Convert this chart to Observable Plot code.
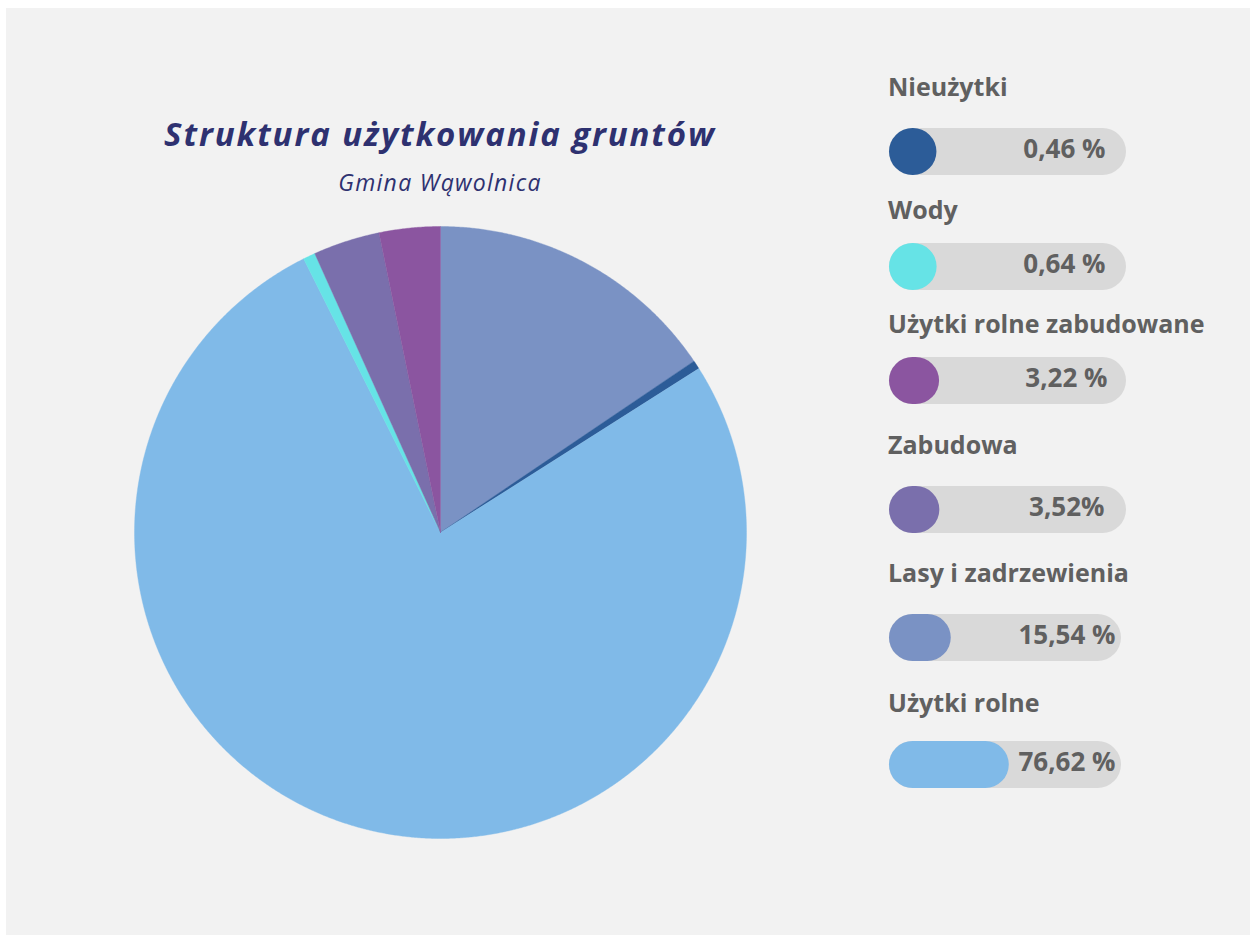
<!DOCTYPE html>
<html>
<head>
<meta charset="utf-8">
<script src="https://cdn.jsdelivr.net/npm/d3@7"></script>
<script src="https://cdn.jsdelivr.net/npm/@observablehq/plot@0.6"></script>
<style>
  html, body { margin: 0; padding: 0; background: #ffffff; }
  #page { position: relative; width: 1250px; height: 936px; overflow: hidden; font-family: "Open Sans", sans-serif; }
  #panel { position: absolute; left: 6px; top: 8px; width: 1244px; height: 927px; background: #f2f2f2; }
  .abs { position: absolute; }
  #title { left: 40px; width: 800px; text-align: center; font-size: 33px; font-weight: 700; font-style: italic; color: #2e3170; line-height: 33px; top: 117px; white-space: nowrap; letter-spacing: 1.9px; }
  #subtitle { left: 190px; width: 500px; text-align: center; font-size: 23px; font-weight: 400; font-style: italic; color: #2e3170; line-height: 23px; top: 171px; white-space: nowrap; letter-spacing: 1.3px; }
  .lab { font-size: 25px; font-weight: 700; color: #606060; line-height: 25px; white-space: nowrap; }
</style>
</head>
<body>
<div id="page">
  <div id="panel"></div>
  <div id="title" class="abs">Struktura użytkowania gruntów</div>
  <div id="subtitle" class="abs">Gmina Wąwolnica</div>
  <div id="pie" class="abs" style="left:131px; top:223px;"></div>
  <div id="legend"></div>
</div>
<script>
// ---- Data (pie order, clockwise from 12 o'clock) ----
const pieNames  = ["Lasy i zadrzewienia", "Nieużytki", "Użytki rolne", "Wody", "Zabudowa", "Użytki rolne zabudowane"];
const pieShares = [15.54, 0.46, 76.62, 0.64, 3.52, 3.22];

// ---- Legend (top to bottom) ----
const legendNames  = ["Nieużytki", "Wody", "Użytki rolne zabudowane", "Zabudowa", "Lasy i zadrzewienia", "Użytki rolne"];
const legendValues = [0.46, 0.64, 3.22, 3.52, 15.54, 76.62];
const legendLabels = ["0,46 %", "0,64 %", "3,22 %", "3,52%", "15,54 %", "76,62 %"];

// ---- Colours ----
const colorDomain = ["Nieużytki", "Wody", "Użytki rolne zabudowane", "Zabudowa", "Lasy i zadrzewienia", "Użytki rolne"];
const colorRange  = ["#2c5c98", "#66e3e6", "#8b55a0", "#7a6fac", "#7a92c4", "#80bae8"];

// ---- Layout (pixels) ----
const pieSize = 612, pieMargin = 3;
const barCenters = [151, 266, 380, 509, 637, 764];
const labelBaselines = [96, 219, 333, 454, 582, 712];
const trackRights = [1126, 1126, 1126, 1126, 1121, 1121];
const valueRights = [1105, 1105, 1107, 1104, 1115, 1115];
const legendLeft = 889;
const barH = 47;
const barSpan = 190;   // pixels for scale domain [0, trackMax]
const trackMax = 200;

// Build slice outlines from d3.pie angles
const pieData = pieNames.map((name, i) => ({name, share: pieShares[i]}));
const arcs = d3.pie().sort(null).value(d => d.share)(pieData);
const pts = [];
for (const a of arcs) {
  const n = Math.max(2, Math.ceil((a.endAngle - a.startAngle) / 0.005));
  pts.push({name: a.data.name, x: 0, y: 0});
  for (let k = 0; k <= n; k++) {
    const t = a.startAngle + (a.endAngle - a.startAngle) * k / n;
    pts.push({name: a.data.name, x: Math.sin(t), y: Math.cos(t)});
  }
  pts.push({name: a.data.name, x: 0, y: 0});
}

const pie = Plot.plot({
  width: pieSize + 2 * pieMargin, height: pieSize + 2 * pieMargin, margin: pieMargin,
  style: {background: "transparent", overflow: "visible"},
  x: {domain: [-1, 1], axis: null},
  y: {domain: [-1, 1], axis: null},
  color: {domain: colorDomain, range: colorRange},
  marks: [
    Plot.line(pts, {x: "x", y: "y", z: "name", fill: "name", stroke: "name", strokeWidth: 0.4, curve: "linear"})
  ]
});
document.getElementById("pie").appendChild(pie);

// Legend rows
const legendEl = document.getElementById("legend");
legendNames.forEach((name, i) => {
  const lab = document.createElement("div");
  lab.className = "abs lab";
  lab.style.left = (legendLeft - 1) + "px";
  lab.style.top = (labelBaselines[i] - 0.888 * 25) + "px";
  lab.textContent = name;
  legendEl.appendChild(lab);

  const row = [{name, value: legendValues[i], label: legendLabels[i]}];
  const x = d3.scaleLinear([0, trackMax], [barH / 2, barH / 2 + barSpan]);
  const trackEnd = x.invert(trackRights[i] - legendLeft - barH / 2);
  const p = Plot.plot({
    width: 250, height: barH + 1, margin: 0,
    style: {background: "transparent", overflow: "visible"},
    x: {domain: x.domain(), range: x.range(), axis: null},
    y: {domain: [-1, 1], range: [barH + 1, 0], axis: null},
    color: {domain: colorDomain, range: colorRange},
    marks: [
      Plot.ruleY(row, {y: () => 0, x1: () => 0, x2: () => trackEnd, stroke: "#d9d9d9", strokeWidth: barH, strokeLinecap: "round"}),
      Plot.ruleY(row, {y: () => 0, x1: () => 0, x2: "value", stroke: "name", strokeWidth: barH, strokeLinecap: "round"}),
      Plot.text(row, {x: () => trackMax, y: () => 0, text: "label", textAnchor: "end",
        dx: (valueRights[i] - legendLeft) - (barH / 2 + barSpan), dy: -1.5,
        fontSize: 26, fontWeight: 700, fill: "#606060", fontFamily: "Open Sans"})
    ]
  });
  const wrap = document.createElement("div");
  wrap.className = "abs";
  wrap.style.left = legendLeft + "px";
  wrap.style.top = (barCenters[i] - (barH + 1) / 2) + "px";
  wrap.appendChild(p);
  legendEl.appendChild(wrap);
});
</script>
</body>
</html>
